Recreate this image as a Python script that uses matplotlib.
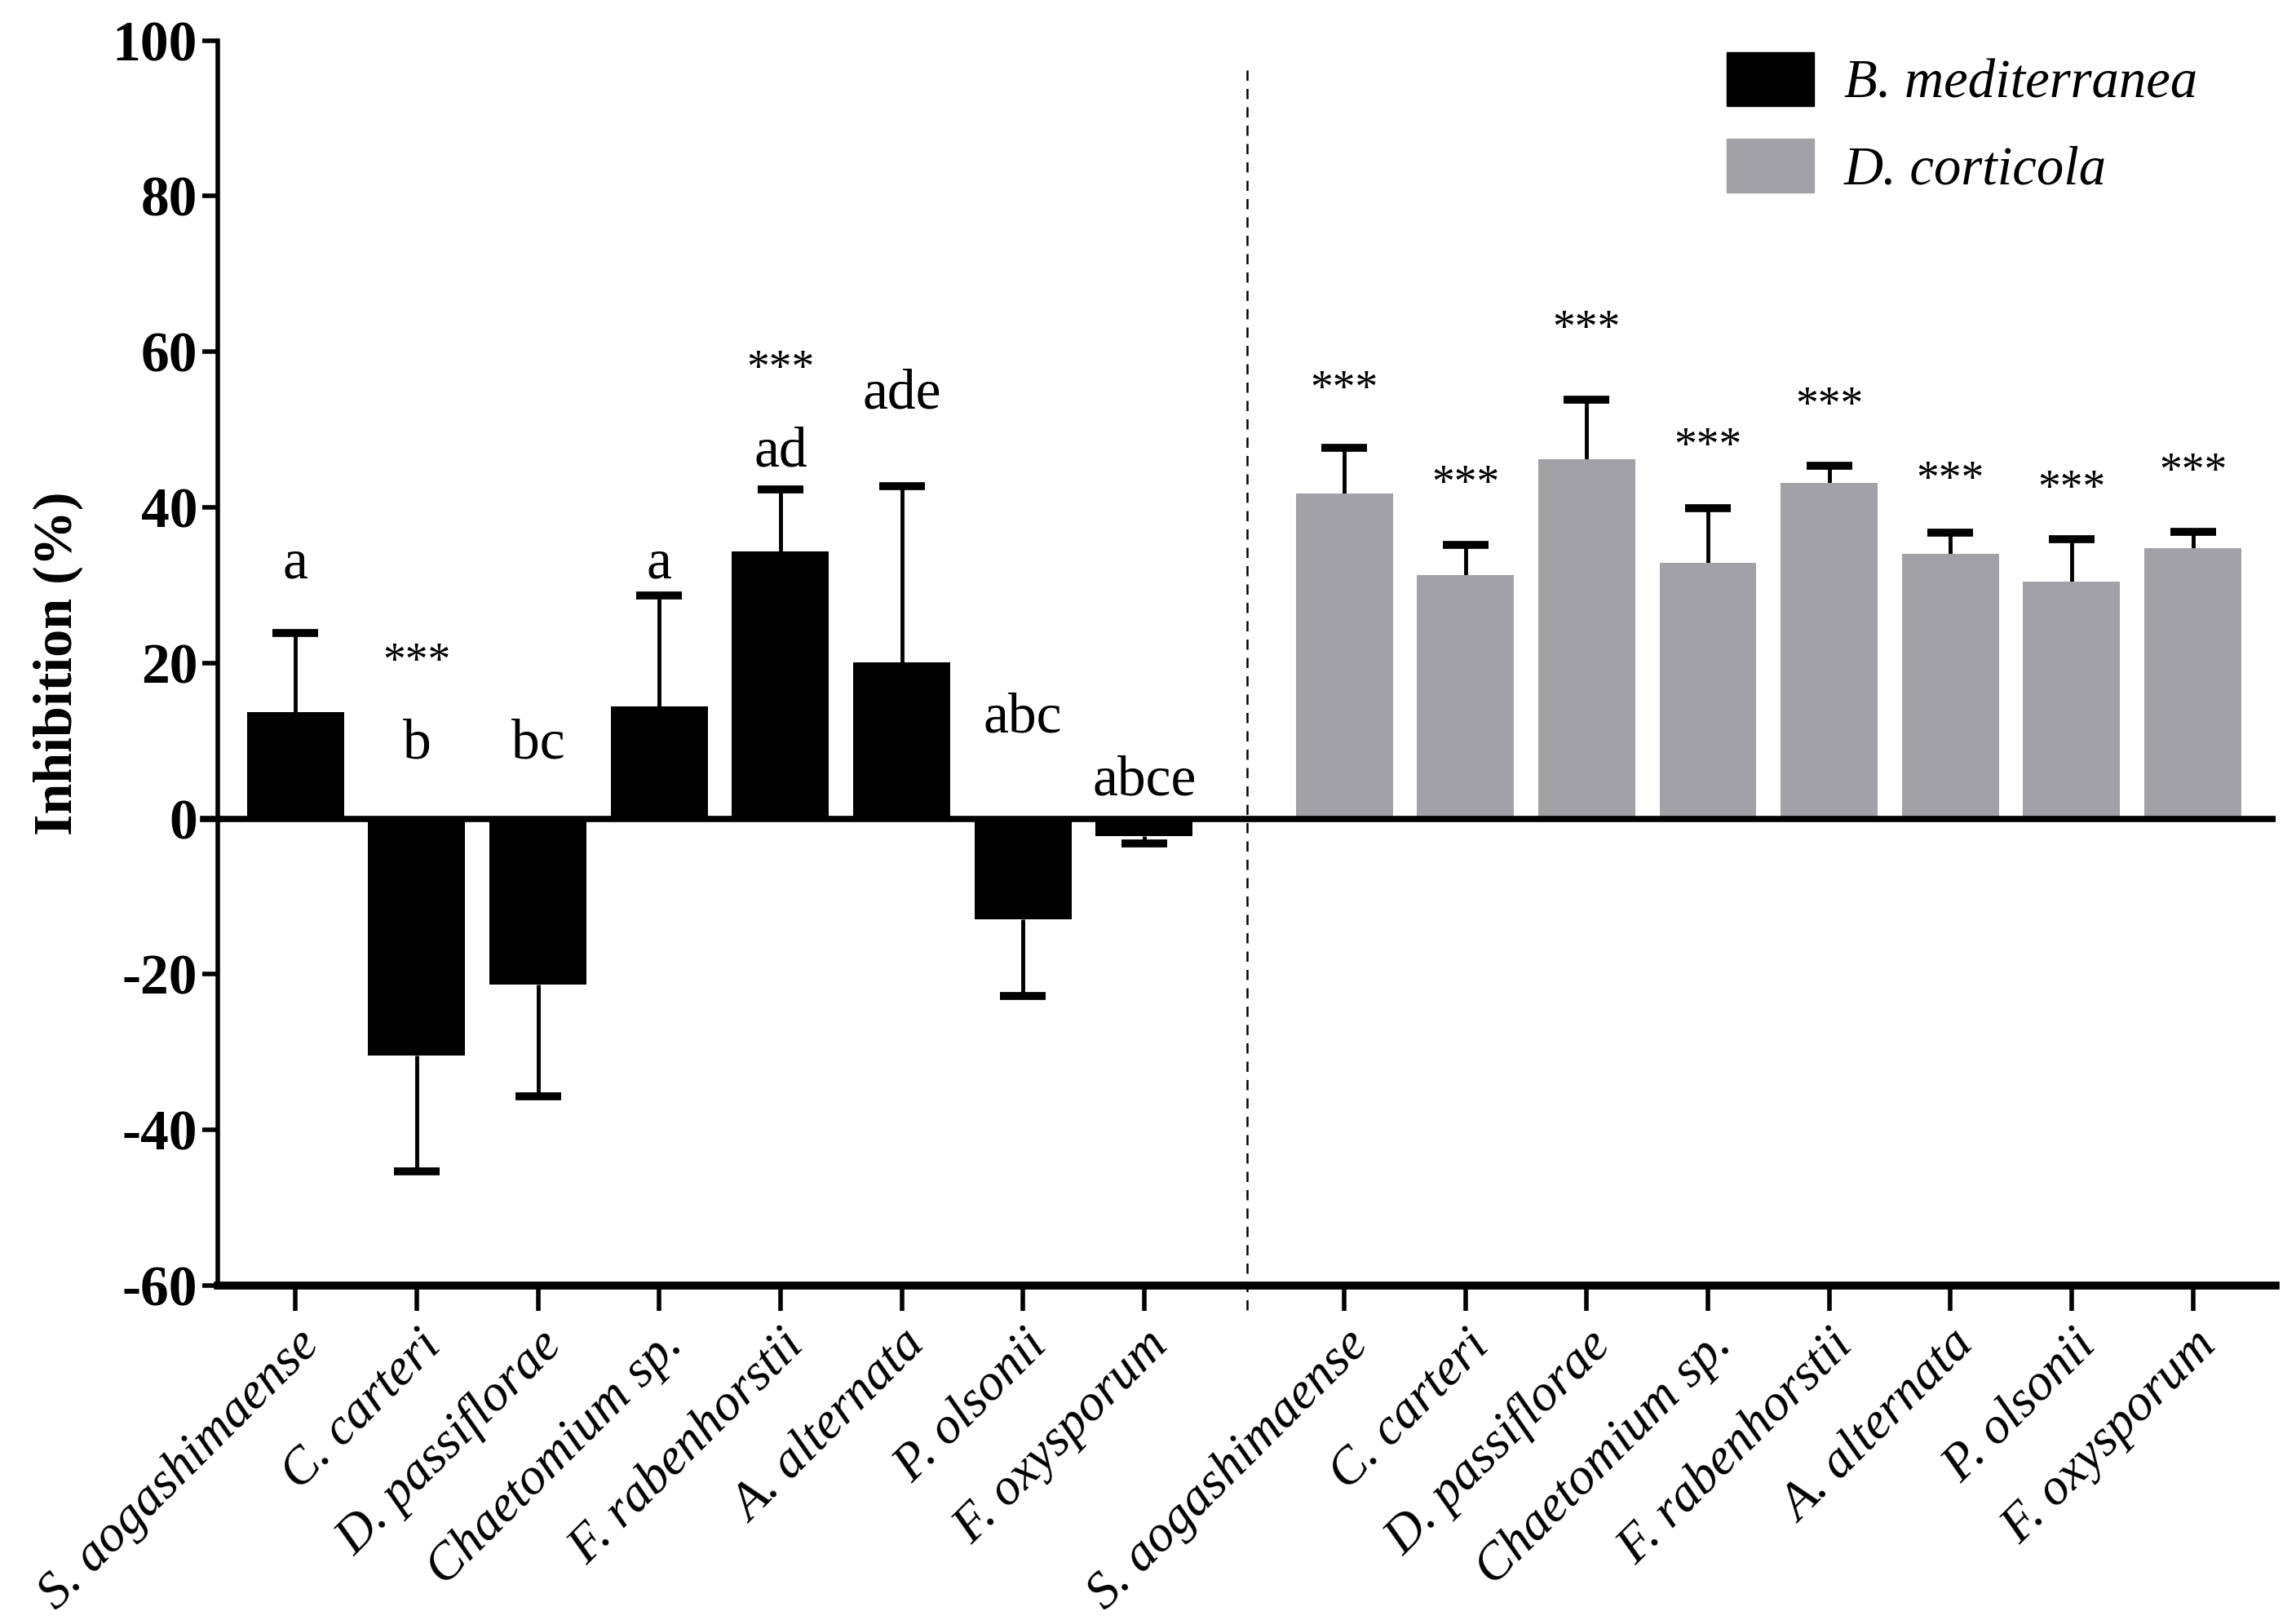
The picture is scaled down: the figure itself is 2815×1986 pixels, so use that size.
import numpy as np
import matplotlib.pyplot as plt
from matplotlib.patches import Patch

# pathogens (same order for both antagonists)
pathogens = ['S. aogashimaense', 'C. carteri', 'D. passiflorae', 'Chaetomium sp.',
             'F. rabenhorstii', 'A. alternata', 'P. olsonii', 'F. oxysporum']

# B. mediterranea: mean inhibition (%) and error (SD)
bm_mean = [13.7, -30.4, -21.3, 14.4, 34.3, 20.1, -12.9, -2.3]
bm_err = [10.2, 14.9, 14.4, 14.3, 8.0, 22.6, 9.9, 0.9]
bm_text = ['a', 'b', 'bc', 'a', 'ad', 'ade', 'abc', 'abce']
bm_text_y = [32.3, 9.1, 9.1, 32.3, 46.7, 54.1, 12.5, 4.4]
bm_star_y = [None, 20.9, None, None, 58.5, None, None, None]

# D. corticola
dc_mean = [41.8, 31.3, 46.2, 32.9, 43.1, 34.0, 30.5, 34.8]
dc_err = [5.9, 3.9, 7.6, 7.0, 2.2, 2.7, 5.4, 2.1]
dc_star_y = [55.9, 43.7, 63.6, 48.5, 53.8, 44.3, 43.1, 45.3]

plt.rcParams['font.family'] = ['Liberation Serif', 'DejaVu Serif']

fig = plt.figure(figsize=(28.15, 19.86), dpi=100)
ax = fig.add_axes([0.0949, 0.2065, 0.8961, 0.7685])

x1 = np.arange(8)
x2 = np.arange(8) + 8.65
w = 0.8
grey = '#a2a1a5'


def draw_group(x, mean, err, color):
    mean = np.array(mean)
    err = np.array(err)
    end = np.where(mean < 0, mean - err, mean + err)
    ax.bar(x, mean, w, color=color, zorder=2)
    ax.vlines(x, mean, end, color='black', lw=3.5, zorder=1)
    ax.plot(x, end, ls='none', marker='_', ms=40, mew=7, color='black', zorder=1)


draw_group(x1, bm_mean, bm_err, 'black')
draw_group(x2, dc_mean, dc_err, grey)

ax.axhline(0, color='black', lw=5.5, zorder=3)
ax.plot([-0.64 - 0.12, -0.64], [0, 0], color='black', lw=5.5, clip_on=False)
ax.axvline(7.85, ymin=-0.02, ymax=0.979, color='black', lw=1.8, ls=(0, (5, 4)),
           clip_on=False)

for x, t, ty, sy in zip(x1, bm_text, bm_text_y, bm_star_y):
    ax.text(x, ty + 0.4, t, ha='center', va='center', fontsize=50)
    if sy is not None:
        ax.text(x, sy - 0.9, '***', ha='center', va='center', fontsize=40)
for x, sy in zip(x2, dc_star_y):
    ax.text(x, sy - 0.9, '***', ha='center', va='center', fontsize=40)

ax.set_xlim(-0.64, 16.33)
ax.set_ylim(-60, 100)
ax.set_yticks(range(-60, 101, 20))
ax.set_yticklabels([str(v) for v in range(-60, 101, 20)], fontsize=50, fontweight='bold')
ax.set_xticks(np.concatenate([x1, x2]))
ax.set_xticklabels(pathogens + pathogens, rotation=45, ha='right', rotation_mode='anchor',
                   fontsize=46, style='italic')
ax.set_ylabel('Inhibition (%)', fontsize=49, fontweight='bold', labelpad=26)

for s in ['top', 'right']:
    ax.spines[s].set_visible(False)
ax.spines['left'].set_linewidth(4)
ax.spines['bottom'].set_linewidth(7)
ax.tick_params(axis='y', length=14, width=4, pad=4)
ax.tick_params(axis='x', length=22, width=4, pad=10)

handles = [Patch(color='black'), Patch(color=grey)]
ax.legend(handles, ['B. mediterranea', 'D. corticola'], loc='upper left',
          bbox_to_anchor=(0.7522, 0.968), bbox_transform=fig.transFigure,
          frameon=False, borderpad=0, borderaxespad=0, handlelength=1.6,
          handleheight=1.15, handletextpad=0.55, labelspacing=0.55,
          prop={'size': 48, 'style': 'italic'})

fig.savefig('out.png', dpi=100)
